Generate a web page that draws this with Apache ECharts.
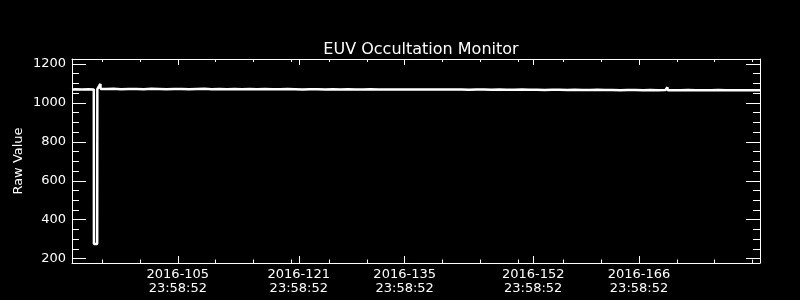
<!DOCTYPE html>
<html><head><meta charset="utf-8">
<script src="https://cdn.jsdelivr.net/npm/echarts@6/dist/echarts.min.js"></script>
<style>html,body{margin:0;padding:0;background:#000;}#c{width:800px;height:300px;}</style>
</head><body><div id="c"></div>
<script>
// time in fractional day-of-year 2016 (doy N at 00:00 = N)
const dayOfYear = [
  91.999, 92.5, 93.3, 94.2, 94.88, 94.9, 95.33, 95.35, 95.5, 95.76, 95.79,
  96.5, 97.5, 98.5, 99.5, 100.5, 101.5, 102.5, 103.5, 104.5, 105.5,
  106.5, 107.5, 108.5, 109.5, 110.5, 111.5, 112.5, 113.5, 114.5, 115.5,
  116.5, 117.5, 118.5, 119.5, 120.5, 121.5, 122.5, 123.5, 124.5, 125.5,
  126.5, 127.5, 128.5, 129.5, 130.5, 131.5, 132.5, 133.5, 134.5, 135.5,
  136.5, 137.5, 138.5, 139.5, 140.5, 141.5, 142.5, 143.5, 144.5, 145.5,
  146.5, 147.5, 148.5, 149.5, 150.5, 151.5, 152.5, 153.5, 154.5, 155.5,
  156.5, 157.5, 158.5, 159.5, 160.5, 161.5, 162.5, 163.5, 164.5, 165.5,
  166.5, 167.5, 168.5, 169.5, 170.5, 170.76, 170.79, 171.5, 172.5, 173.5, 174.5, 175.5,
  176.5, 177.5, 178.5, 179.5, 180.5, 181.5, 182.5, 182.999
];
const rawValue = [
  1069, 1070, 1069, 1070, 1069, 275, 275, 1070, 1071, 1097, 1071,
  1071, 1072, 1070, 1071, 1071, 1070, 1072, 1071, 1070, 1071,
  1071, 1070, 1071, 1072, 1070, 1071, 1070, 1071, 1070, 1071,
  1070, 1071, 1070, 1070, 1071, 1070, 1069, 1070, 1070, 1069,
  1070, 1069, 1070, 1069, 1069, 1070, 1069, 1069, 1068, 1069,
  1069, 1068, 1069, 1068, 1068, 1069, 1068, 1068, 1067, 1068,
  1068, 1067, 1068, 1067, 1067, 1068, 1067, 1067, 1066, 1067,
  1067, 1066, 1067, 1066, 1066, 1067, 1066, 1066, 1065, 1066,
  1066, 1065, 1066, 1065, 1066, 1080, 1065, 1065, 1065, 1066, 1065, 1065,
  1065, 1066, 1065, 1065, 1064, 1065, 1065, 1065
];
const xRange = [91.999, 182.999];
const yRange = [178, 1225];
const xMajorTicks = [105.999, 121.999, 135.999, 152.999, 166.999];
const xMajorLabels = ['2016-105\n23:58:52', '2016-121\n23:58:52', '2016-135\n23:58:52', '2016-152\n23:58:52', '2016-166\n23:58:52'];
const xMinorTicks = [96, 101, 111, 116, 121, 126, 131, 141, 146, 151, 157, 162, 172, 177, 182];
const yMajorTicks = [200, 400, 600, 800, 1000, 1200];
const yMinorTicks = [250, 300, 350, 450, 500, 550, 650, 700, 750, 850, 900, 950, 1050, 1100, 1150];

const FONT = 'DejaVu Sans';
const W = '#ffffff';

function axis(kind, position, ticks, len, showLine, labels) {
  const r = kind === 'x' ? xRange : yRange;
  const a = {
    type: 'value', min: r[0], max: r[1], position: position,
    axisLine: { show: showLine, onZero: false, lineStyle: { color: W, width: 1 } },
    axisTick: { show: true, inside: true, length: len, customValues: ticks, lineStyle: { color: W, width: 1 } },
    axisLabel: { show: false },
    splitLine: { show: false }, minorTick: { show: false }
  };
  if (labels) a.axisLabel = labels;
  return a;
}

const xLabel = {
  show: true, customValues: xMajorTicks, color: W, fontFamily: FONT, fontSize: 13,
  lineHeight: 14.5, margin: 4,
  formatter: function (v) {
    const i = xMajorTicks.findIndex(function (d) { return Math.abs(d - v) < 0.01; });
    return i >= 0 ? xMajorLabels[i] : '';
  }
};
const yLabel = {
  show: true, customValues: yMajorTicks, color: W, fontFamily: FONT, fontSize: 13, margin: 6,
  formatter: function (v) { return String(Math.round(v)); }
};

const yLeft = axis('y', 'left', yMajorTicks, 14, true, yLabel);
yLeft.name = 'Raw Value';
yLeft.nameLocation = 'middle';
yLeft.nameGap = 47;
yLeft.nameMoveOverlap = false;
yLeft.nameRotate = 90;
yLeft.nameTextStyle = { color: W, fontFamily: FONT, fontSize: 13 };

const chart = echarts.init(document.getElementById('c'), null, { renderer: 'canvas' });
chart.setOption({
  backgroundColor: '#000000',
  animation: false,
  title: {
    text: 'EUV Occultation Monitor', left: 416, top: 37, textAlign: 'center',
    textStyle: { color: W, fontFamily: FONT, fontSize: 16, fontWeight: 'normal' }
  },
  grid: { left: 72, right: 40, top: 59, bottom: 37, containLabel: false },
  xAxis: [
    axis('x', 'bottom', xMajorTicks, 7, true, xLabel),
    axis('x', 'bottom', xMinorTicks, 3.5, false),
    axis('x', 'top', xMajorTicks, 6, true),
    axis('x', 'top', xMinorTicks, 3, false)
  ],
  yAxis: [
    yLeft,
    axis('y', 'left', yMinorTicks, 7, false),
    axis('y', 'right', yMajorTicks, 14, true),
    axis('y', 'right', yMinorTicks, 7, false)
  ],
  series: [{
    type: 'line', xAxisIndex: 0, yAxisIndex: 0,
    data: dayOfYear.map(function (t, i) { return [t, rawValue[i]]; }),
    showSymbol: false, symbol: 'none',
    lineStyle: { color: W, width: 2.5 },
    itemStyle: { color: W }
  }]
});
</script>
</body></html>
